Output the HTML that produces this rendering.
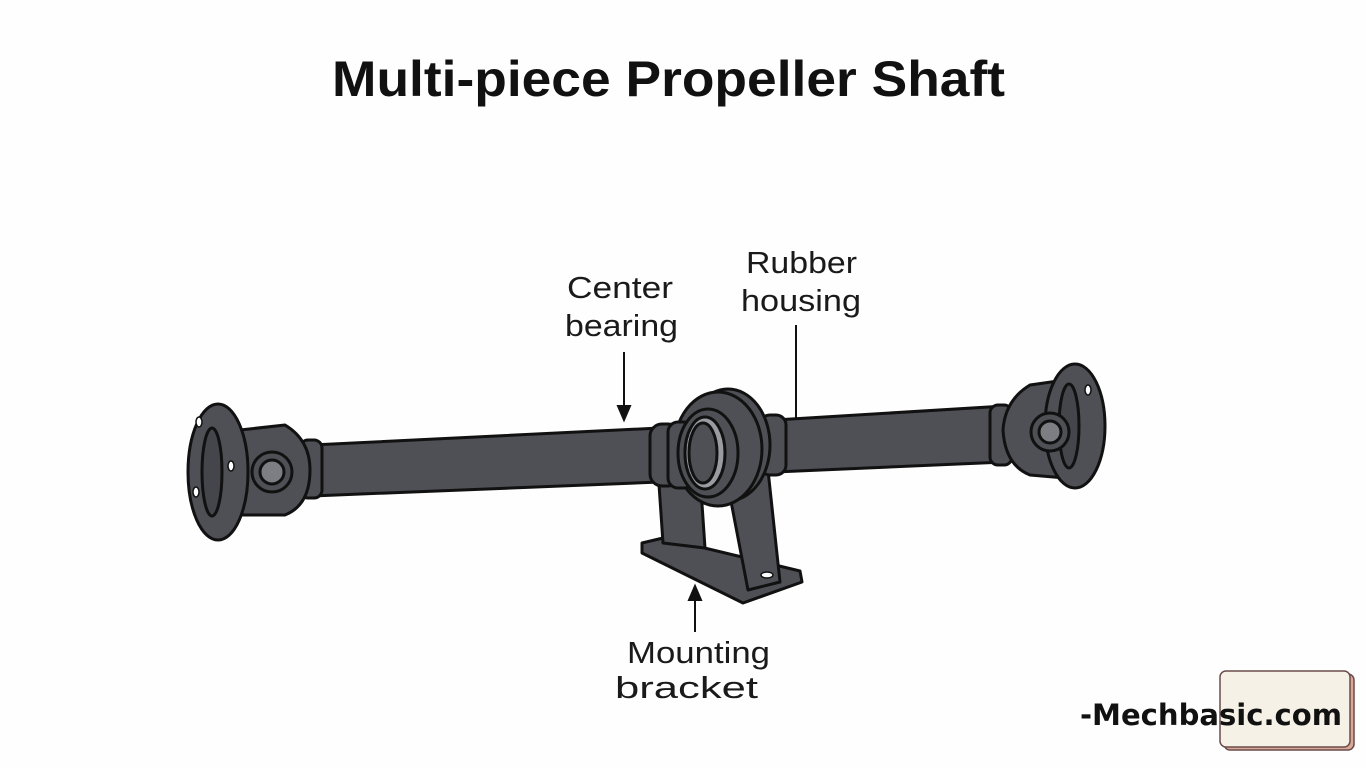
<!DOCTYPE html>
<html><head><meta charset="utf-8"><style>
html,body{margin:0;padding:0;background:#fff;width:1366px;height:768px;overflow:hidden}
svg{display:block}
</style></head><body>
<svg width="1366" height="768" viewBox="0 0 1366 768" xmlns="http://www.w3.org/2000/svg">
<rect width="1366" height="768" fill="#fefefe"/>
<text x="332" y="96" textLength="673" lengthAdjust="spacingAndGlyphs" font-family="Liberation Sans, sans-serif" font-weight="bold" font-size="50" fill="#111">Multi-piece Propeller Shaft</text>
<g font-family="Liberation Sans, sans-serif" font-size="31" fill="#1a1a1a">
<text x="567" y="298" textLength="106" lengthAdjust="spacingAndGlyphs">Center</text>
<text x="565" y="336" textLength="113" lengthAdjust="spacingAndGlyphs">bearing</text>
<text x="746" y="273" textLength="111" lengthAdjust="spacingAndGlyphs">Rubber</text>
<text x="741" y="311" textLength="120" lengthAdjust="spacingAndGlyphs">housing</text>
<text x="627" y="663" textLength="143" lengthAdjust="spacingAndGlyphs">Mounting</text>
<text x="615" y="698" textLength="143" lengthAdjust="spacingAndGlyphs">bracket</text>
</g>
<g stroke="#111" stroke-width="2" fill="#111">
<line x1="624" y1="352" x2="624" y2="408"/><polygon points="618,406 630,406 624,420"/>
<line x1="796" y1="325" x2="796" y2="440"/>
<line x1="695" y1="632" x2="695" y2="598"/><polygon points="689,600 701,600 695,586"/>
</g>
<g stroke="#111" stroke-width="3" stroke-linejoin="round" fill="#4f5055">
<polygon points="312,445 660,428 660,482 312,496"/>
<polygon points="775,420 1005,406 1005,462 775,472"/>
<polygon points="642,543 663,538 800,571 802,582 743,603 642,553"/>
<polygon points="658,470 700,475 705,548 663,543"/>
<polygon points="725,470 768,470 780,582 748,590"/>
<rect x="300" y="440" width="22" height="58" rx="8"/>
<path d="M240 430 L285 425 Q310 440 310 470 Q310 505 285 515 L240 515 Z"/>
<ellipse cx="218" cy="472" rx="30" ry="68"/>
<ellipse cx="212" cy="472" rx="10" ry="44" fill="#45464b"/>
<circle cx="272" cy="472" r="20"/>
<circle cx="272" cy="472" r="12" fill="#7c7e84"/>
<rect x="990" y="405" width="22" height="60" rx="8"/>
<path d="M1065 380 L1030 385 Q1005 400 1003 430 Q1005 465 1030 475 L1065 478 Z"/>
<ellipse cx="1075" cy="426" rx="30" ry="62"/>
<ellipse cx="1069" cy="426" rx="10" ry="42" fill="#45464b"/>
<circle cx="1050" cy="432" r="19"/>
<circle cx="1050" cy="432" r="11" fill="#7c7e84"/>
<rect x="760" y="415" width="26" height="60" rx="10"/>
<ellipse cx="728" cy="445" rx="42" ry="56"/>
<ellipse cx="718" cy="449" rx="44" ry="57"/>
<rect x="650" y="424" width="30" height="62" rx="12"/>
<rect x="668" y="422" width="26" height="66" rx="10"/>
<ellipse cx="708" cy="453" rx="30" ry="44"/>
<ellipse cx="705" cy="453" rx="20" ry="36" fill="#9a9ca2"/>
<ellipse cx="703" cy="453" rx="14" ry="30"/>
</g>
<g fill="#fff" stroke="#111" stroke-width="1.5">
<ellipse cx="199" cy="422" rx="3" ry="5"/><ellipse cx="196" cy="492" rx="3" ry="5"/><ellipse cx="231" cy="466" rx="3" ry="5"/>
<ellipse cx="1088" cy="390" rx="3" ry="5"/><ellipse cx="767" cy="575" rx="6" ry="3"/>
</g>
<rect x="1224" y="674" width="130" height="76" rx="6" fill="#d9a995" stroke="#6b4c4c" stroke-width="1.5"/>
<rect x="1220" y="671" width="130" height="76" rx="6" fill="#f5f1e6" stroke="#6b4c4c" stroke-width="1.5"/>
<text x="1080" y="725" textLength="262" lengthAdjust="spacingAndGlyphs" font-family="DejaVu Sans, sans-serif" font-weight="bold" font-size="29" fill="#111">-Mechbasic.com</text>
</svg>
</body></html>
